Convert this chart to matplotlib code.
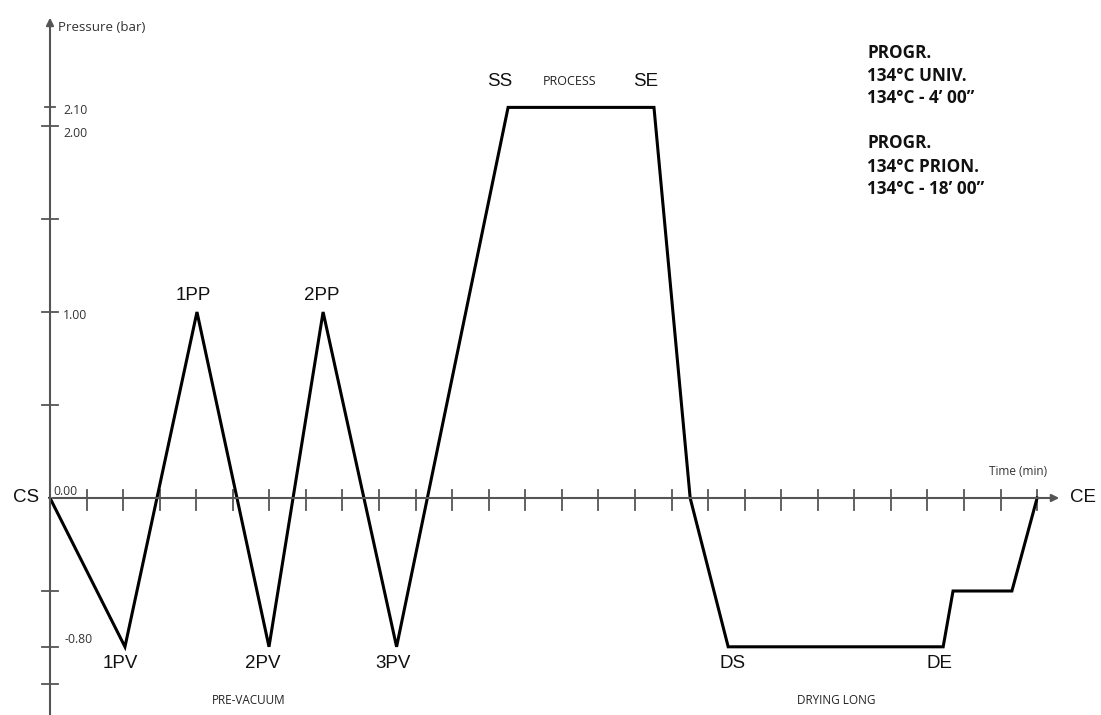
import matplotlib
matplotlib.use("Agg")
import matplotlib.pyplot as plt

# cycle profile (time in arbitrary minutes, pressure in bar)
time = [0, 2.05, 4.02, 5.99, 7.47, 9.48, 12.53, 16.52, 17.51, 18.55, 24.43, 24.70, 26.31, 27.0]
pressure = [0, -0.8, 1.0, -0.8, 1.0, -0.8, 2.1, 2.1, 0, -0.8, -0.8, -0.5, -0.5, 0]

x_ticks = list(range(1, 28))
y_ticks = [-1.0, -0.8, -0.5, 0.5, 1.0, 1.5, 2.0, 2.1]

# point labels: (text, t, p)
point_labels = [("CS", -0.66, 0), ("1PV", 1.91, -0.89), ("2PV", 5.83, -0.89), ("3PV", 9.38, -0.89),
                ("1PP", 3.91, 1.09), ("2PP", 7.44, 1.09), ("SS", 12.31, 2.24), ("SE", 16.30, 2.24),
                ("DS", 18.68, -0.89), ("DE", 24.34, -0.89), ("CE", 28.25, 0)]
phase_labels = [("PROCESS", 14.22, 2.24, 9), ("PRE-VACUUM", 5.44, -1.09, 8.5), ("DRYING LONG", 21.5, -1.09, 8.5)]
prog_lines = ["PROGR.", "134°C UNIV.", "134°C - 4’ 00”", "PROGR.", "134°C PRION.", "134°C - 18’ 00”"]
prog_y = [2.39, 2.27, 2.15, 1.91, 1.78, 1.66]

px_t = 36.56   # px per minute
px_p = 186.0   # px per bar

fig = plt.figure(figsize=(11.01, 7.15), dpi=100)
ax = fig.add_axes([0, 0, 1, 1])
ax.set_xlim(-50 / px_t, (1101 - 50) / px_t)
ax.set_ylim(-(715 - 498) / px_p, 498 / px_p)
ax.axis("off")

axis_col = "#555555"
# axes with arrows
ax.annotate("", xy=(0, 2.597), xytext=(0, -1.2),
            arrowprops=dict(arrowstyle="-|>", color=axis_col, lw=1.5, mutation_scale=11))
ax.annotate("", xy=(27.68, 0), xytext=(0, 0),
            arrowprops=dict(arrowstyle="-|>", color=axis_col, lw=1.5, mutation_scale=11))

for t in x_ticks:
    ax.plot([t, t], [0.045, -0.065], color=axis_col, lw=1.3)
for p in y_ticks:
    half = 0.15 if p == 2.1 else 0.22
    ax.plot([-half, half], [p, p], color=axis_col, lw=1.3)

small = dict(family="Open Sans", color="#333333", fontsize=8.8)
ax.text(0.36, 2.086, "2.10", va="center", ha="left", **small)
ax.text(0.36, 1.962, "2.00", va="center", ha="left", **small)
ax.text(0.36, 0.98, "1.00", va="center", ha="left", **small)
ax.text(0.08, 0.036, "0.00", va="center", ha="left", **small)
ax.text(0.41, -0.763, "-0.80", va="center", ha="left", **small)
ax.text(0.22, 2.53, "Pressure (bar)", va="center", ha="left", family="Open Sans", color="#333333", fontsize=9.6)
ax.text(26.48, 0.14, "Time (min)", va="center", ha="center", family="Open Sans", color="#333333", fontsize=8.5)

ax.plot(time, pressure, color="black", lw=2.2, solid_joinstyle="miter")

for txt, t, p in point_labels:
    ax.text(t, p, txt, ha="center", va="center", family="Liberation Sans", fontsize=13.5, color="#111111")
for txt, t, p, fs in phase_labels:
    ax.text(t, p, txt, ha="center", va="center", family="Open Sans", fontsize=fs, color="#222222")
for txt, p in zip(prog_lines, prog_y):
    ax.text(22.35, p, txt, ha="left", va="center", family="Open Sans", fontweight="bold",
            fontsize=12.3, color="#111111")

fig.savefig("out.png", dpi=100)
